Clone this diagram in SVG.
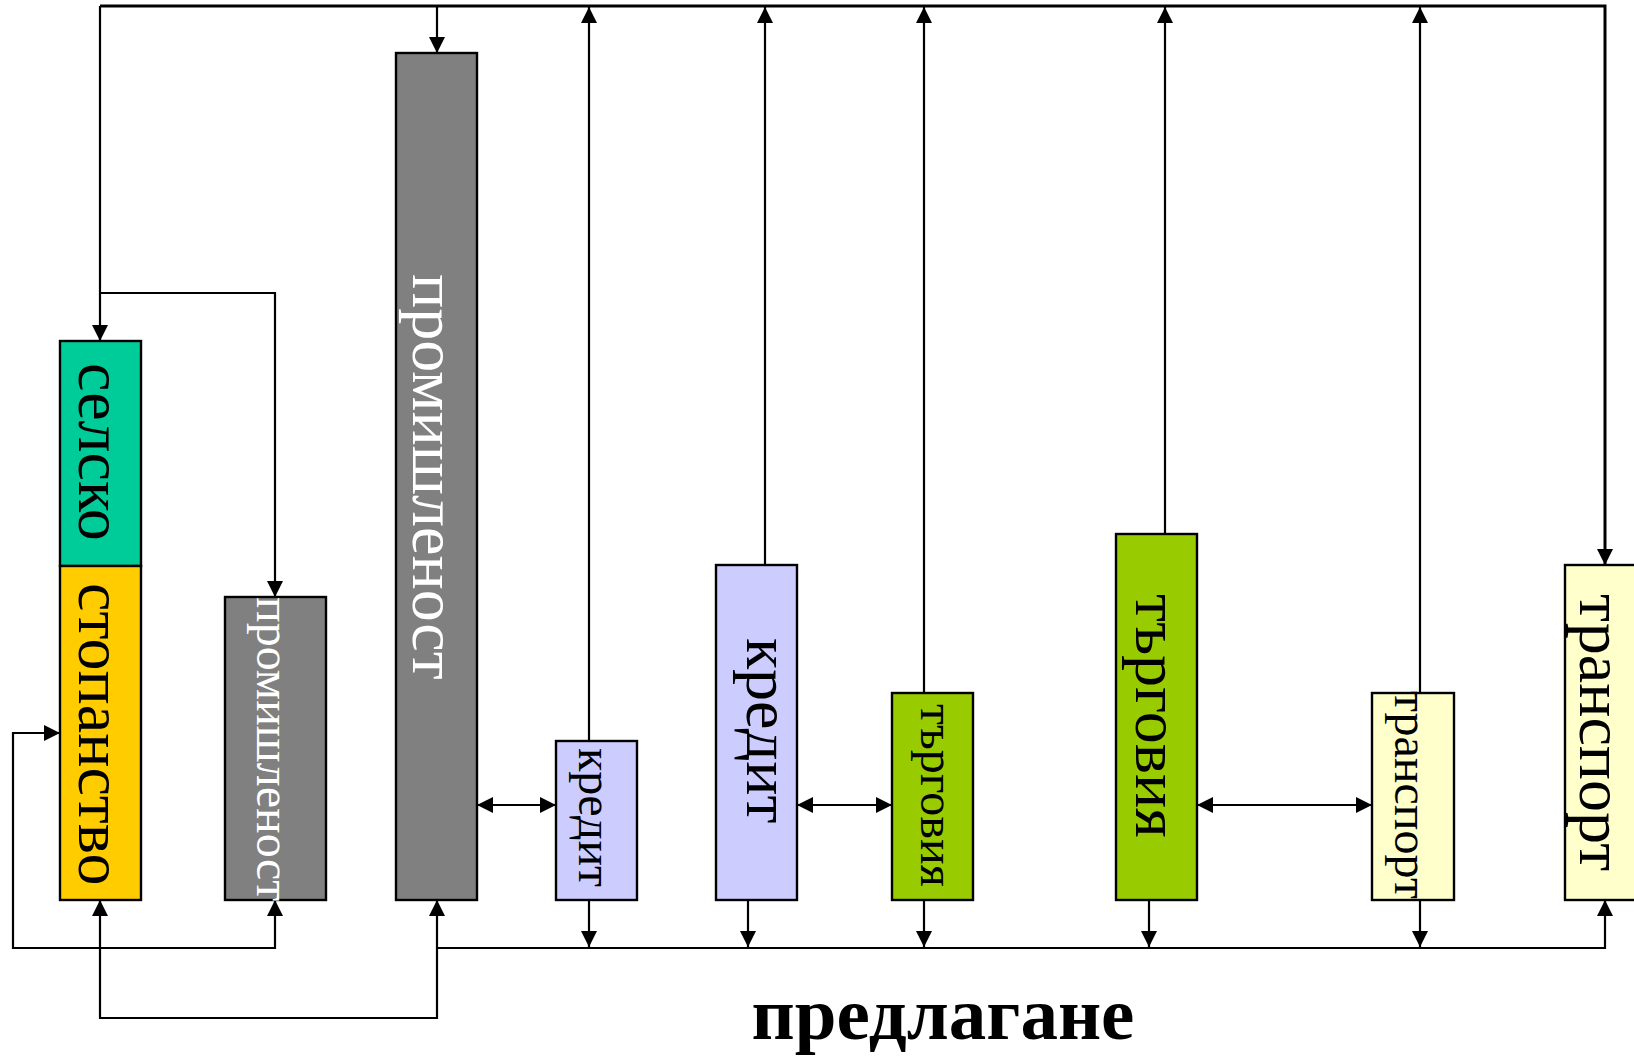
<svg xmlns="http://www.w3.org/2000/svg" width="1634" height="1056" viewBox="0 0 1634 1056">
<style>
.box{stroke:#000;stroke-width:2.4}
.lbl{font-family:"Liberation Serif","Times New Roman",serif;fill:#000}
.big{font-size:64px}
.small{font-size:48px}
.white{fill:#fff}
.ln{fill:none;stroke:#000;stroke-width:2.2}
.title{font-family:"Liberation Serif","Times New Roman",serif;font-weight:bold;font-size:75px;fill:#000}
</style>
<defs>
<marker id="ah" viewBox="0 0 16 16" refX="16" refY="8" markerWidth="16" markerHeight="16" markerUnits="userSpaceOnUse" orient="auto-start-reverse">
<path d="M0,0 L16,8 L0,16 z" fill="#000"/>
</marker>
</defs>
<rect width="1634" height="1056" fill="#fff"/>

<g id="connectors">
<path class="ln" d="M100,6 H1605 V565" marker-end="url(#ah)" style="stroke-width:3"/>
<path class="ln" d="M100,6 V341" marker-end="url(#ah)"/>
<path class="ln" d="M100,293 H275 V597" marker-end="url(#ah)"/>
<path class="ln" d="M437,6 V53" marker-end="url(#ah)"/>
<path class="ln" d="M589,741 V7" marker-end="url(#ah)"/>
<path class="ln" d="M765,565 V7" marker-end="url(#ah)"/>
<path class="ln" d="M924,693 V7" marker-end="url(#ah)"/>
<path class="ln" d="M1165,534 V7" marker-end="url(#ah)"/>
<path class="ln" d="M1420,693 V7" marker-end="url(#ah)"/>
<path class="ln" d="M589,900 V947" marker-end="url(#ah)"/>
<path class="ln" d="M748,900 V947" marker-end="url(#ah)"/>
<path class="ln" d="M924,900 V947" marker-end="url(#ah)"/>
<path class="ln" d="M1149,900 V947" marker-end="url(#ah)"/>
<path class="ln" d="M1420,900 V947" marker-end="url(#ah)"/>
<path class="ln" d="M437,948 H1605 V900" marker-end="url(#ah)"/>
<path class="ln" d="M100,900 V1018 H437 V900" marker-start="url(#ah)" marker-end="url(#ah)"/>
<path class="ln" d="M60,733 H13 V948 H275 V900" marker-start="url(#ah)" marker-end="url(#ah)"/>
<path class="ln" d="M477,805 H556" marker-start="url(#ah)" marker-end="url(#ah)"/>
<path class="ln" d="M797,805 H892" marker-start="url(#ah)" marker-end="url(#ah)"/>
<path class="ln" d="M1197,805 H1372" marker-start="url(#ah)" marker-end="url(#ah)"/>
</g>

<g id="selsko">
<rect class="box" x="60" y="341" width="81" height="225" fill="#00CC99"/>
<text class="lbl big" transform="translate(79,363) rotate(90)">селско</text>
</g>
<g id="stopanstvo">
<rect class="box" x="60" y="566" width="81" height="334" fill="#FFCC00"/>
<text class="lbl big" transform="translate(79,583) rotate(90)">стопанство</text>
</g>
<g id="industry-small">
<rect class="box" x="225" y="597" width="101" height="303" fill="#808080"/>
<text class="lbl small white" transform="translate(257,597) rotate(90)">промишленост</text>
</g>
<g id="industry-big">
<rect class="box" x="396" y="53" width="81" height="847" fill="#808080"/>
<text class="lbl big white" transform="translate(413,274) rotate(90)">промишленост</text>
</g>
<g id="credit-small">
<rect class="box" x="556" y="741" width="81" height="159" fill="#CCCCFF"/>
<text class="lbl small" transform="translate(579,748) rotate(90)">кредит</text>
</g>
<g id="credit-big">
<rect class="box" x="716" y="565" width="81" height="335" fill="#CCCCFF"/>
<text class="lbl big" transform="translate(747,638) rotate(90)">кредит</text>
</g>
<g id="trade-small">
<rect class="box" x="892" y="693" width="81" height="207" fill="#99CC00"/>
<text class="lbl small" transform="translate(921,704) rotate(90)">търговия</text>
</g>
<g id="trade-big">
<rect class="box" x="1116" y="534" width="81" height="366" fill="#99CC00"/>
<text class="lbl big" transform="translate(1136,594) rotate(90)">търговия</text>
</g>
<g id="transport-small">
<rect class="box" x="1372" y="693" width="82" height="207" fill="#FFFFCC"/>
<text class="lbl small" transform="translate(1395,691) rotate(90)">транспорт</text>
</g>
<g id="transport-big">
<rect class="box" x="1565" y="565" width="82" height="335" fill="#FFFFCC"/>
<text class="lbl big" transform="translate(1580,594) rotate(90)">транспорт</text>
</g>
<g id="title">
<text class="title" x="943" y="1039" text-anchor="middle">предлагане</text>
</g>
</svg>
